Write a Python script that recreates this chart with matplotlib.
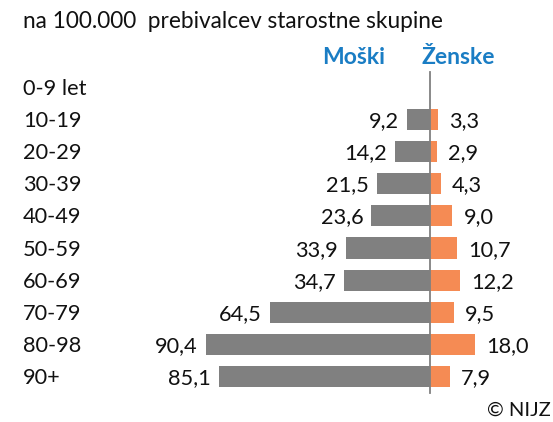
import matplotlib
matplotlib.use("Agg")
import matplotlib.pyplot as plt

categories = ["0-9 let", "10-19", "20-29", "30-39", "40-49", "50-59", "60-69", "70-79", "80-98", "90+"]
men = [None, 9.2, 14.2, 21.5, 23.6, 33.9, 34.7, 64.5, 90.4, 85.1]
women = [None, 3.3, 2.9, 4.3, 9.0, 10.7, 12.2, 9.5, 18.0, 7.9]
title = "na 100.000  prebivalcev starostne skupine"
men_label = "Moški"
women_label = "Ženske"
credit = "© NIJZ"

W, H = 553, 422
fig = plt.figure(figsize=(W / 100, H / 100), dpi=100)
ax = fig.add_axes([0, 0, 1, 1])
ax.axis("off")

cx = 430.0
scale = 2.48
y0 = 87.0
dy = 32.2
ax.set_xlim(-cx / scale, (W - cx) / scale)
ax.set_ylim((H - y0) / dy, -y0 / dy)

font = "Lato"
fs = 15.7
gray = "#808080"
orange = "#F58B54"
blue = "#1A7DC4"
tc = "#111111"

for i, (cat, m, w) in enumerate(zip(categories, men, women)):
    ax.text(23 / scale - cx / scale, i + 0.05, cat, ha="left", va="center", fontsize=fs,
            family=font, color=tc)
    if m is not None:
        ax.barh(i, -m, height=0.66, color=gray, left=0)
        ax.text(-m - 3.3, i + 0.05, f"{m:.1f}".replace(".", ","), ha="right", va="center",
                fontsize=fs, family=font, color=tc)
    if w is not None:
        ax.barh(i, w, height=0.66, color=orange, left=0)
        ax.text(w + 4.5, i + 0.05, f"{w:.1f}".replace(".", ","), ha="left", va="center",
                fontsize=fs, family=font, color=tc)

ax.plot([0, 0], [(72 - y0) / dy, (393 - y0) / dy], color="#808080", lw=1.3)

fig.text(23 / W, 1 - 21 / H, title, ha="left", va="center", fontsize=16.3,
         family=font, color=tc)
fig.text(385 / W, 1 - 57 / H, men_label, ha="right", va="center", fontsize=16.5,
         family=font, color=blue, fontweight="bold")
fig.text(422 / W, 1 - 57 / H, women_label, ha="left", va="center", fontsize=16.5,
         family=font, color=blue, fontweight="bold")
fig.text(551 / W, 1 - 410 / H, credit, ha="right", va="center", fontsize=14.5,
         family=font, color=tc)

fig.savefig("out.png", dpi=100)
